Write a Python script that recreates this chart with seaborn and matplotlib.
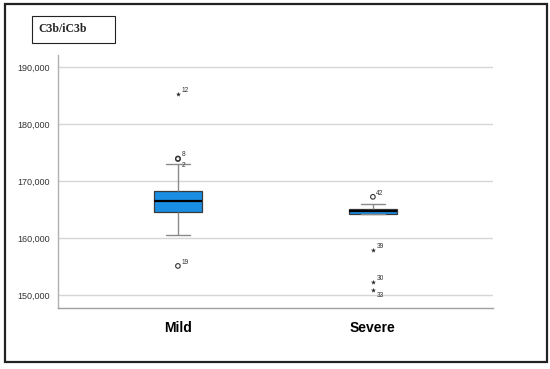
import numpy as np
import pandas as pd
import seaborn as sns
import matplotlib.pyplot as plt
from matplotlib.patches import Rectangle

groups = ['Mild', 'Severe']

mild_cases = list(range(1, 22))
mild_values = [166900, 173900, 165200, 164100, 167700, 166000, 162300, 174000,
               168300, 165700, 166300, 185300, 163400, 167300, 170200, 164600,
               168000, 160500, 155100, 166500, 173100]

severe_cases = list(range(22, 43))
severe_values = [164300, 165500, 164500, 164850, 165100, 164150, 164600, 164750,
                 152200, 165200, 164950, 150900, 164680, 166000, 164400, 165350,
                 164150, 157900, 165700, 164150, 167250]

df = pd.DataFrame({
    'group': ['Mild'] * len(mild_values) + ['Severe'] * len(severe_values),
    'value': mild_values + severe_values,
    'case': mild_cases + severe_cases,
})

sns.set_style("white")
fig = plt.figure(figsize=(5.5, 3.69), dpi=100)
ax = fig.add_axes([0.1055, 0.1653, 0.7905, 0.6857])

sns.boxplot(data=df, x='group', y='value', order=groups, width=0.25,
            showfliers=False, whis=1.5, color='#1a8ee3', saturation=1,
            linecolor='#3a3a3a', linewidth=0.9,
            medianprops=dict(color='black', linewidth=1.6),
            whiskerprops=dict(color='#8a8a8a', linewidth=1),
            capprops=dict(color='#8a8a8a', linewidth=1),
            ax=ax, zorder=3)

# outliers (circle) and extremes (star), SPSS style
for i, g in enumerate(groups):
    sub = df[df['group'] == g]
    q1, q3 = np.percentile(sub['value'], [25, 75])
    iqr = q3 - q1
    out = sub[(sub['value'] > q3 + 1.5 * iqr) | (sub['value'] < q1 - 1.5 * iqr)]
    for _, r in out.iterrows():
        v = r['value']
        extreme = v > q3 + 3 * iqr or v < q1 - 3 * iqr
        if extreme:
            ax.scatter(i, v, marker='*', s=14, color='#222222', linewidths=0, zorder=4)
        else:
            ax.scatter(i, v, marker='o', s=11, facecolors='none',
                       edgecolors='#333333', linewidths=0.8, zorder=4)
        # put label below if another outlier sits just above
        close = ((out['value'] > v) & (out['value'] - v < 1500)).any()
        dy = -5.5 if close else 1.5
        ax.annotate(str(r['case']), (i, v), xytext=(2.5, dy),
                    textcoords='offset points', fontsize=4.8, color='#333333',
                    family='Liberation Sans')

ax.set_xlim(-0.615, 1.615)
ax.set_ylim(147700, 192200)
ax.set_yticks([150000, 160000, 170000, 180000, 190000])
ax.set_yticklabels([f'{t:,}' for t in ax.get_yticks().astype(int)],
                   fontsize=6.5, family='Liberation Sans', color='#333333')
ax.set_xticks(range(len(groups)))
ax.set_xticklabels(groups, fontsize=10, fontweight='bold', family='Liberation Sans',
                   color='black')
ax.tick_params(axis='both', length=0)
ax.tick_params(axis='x', pad=9)
ax.tick_params(axis='y', pad=6)
ax.set_xlabel('')
ax.set_ylabel('')
ax.yaxis.grid(True, color='#d6d6d6', linewidth=1)
ax.set_axisbelow(True)
for s in ['top', 'right']:
    ax.spines[s].set_visible(False)
ax.spines['left'].set_color('#b0b0b0')
ax.spines['bottom'].set_color('#a0a0a0')
ax.spines['left'].set_linewidth(1)
ax.spines['bottom'].set_linewidth(1)

# outer frame and title box
fig.patches.append(Rectangle((0.009, 0.019), 0.9855, 0.970, transform=fig.transFigure,
                             fill=False, edgecolor='#222222', linewidth=1.6))
fig.patches.append(Rectangle((0.058, 0.8835), 0.151, 0.0731, transform=fig.transFigure,
                             fill=False, edgecolor='#222222', linewidth=0.8))
fig.text(0.069, 0.921, 'C3b/iC3b', fontsize=8.5, fontweight='bold',
         family='Liberation Serif', va='center', ha='left')

fig.savefig('out.png', dpi=100)
